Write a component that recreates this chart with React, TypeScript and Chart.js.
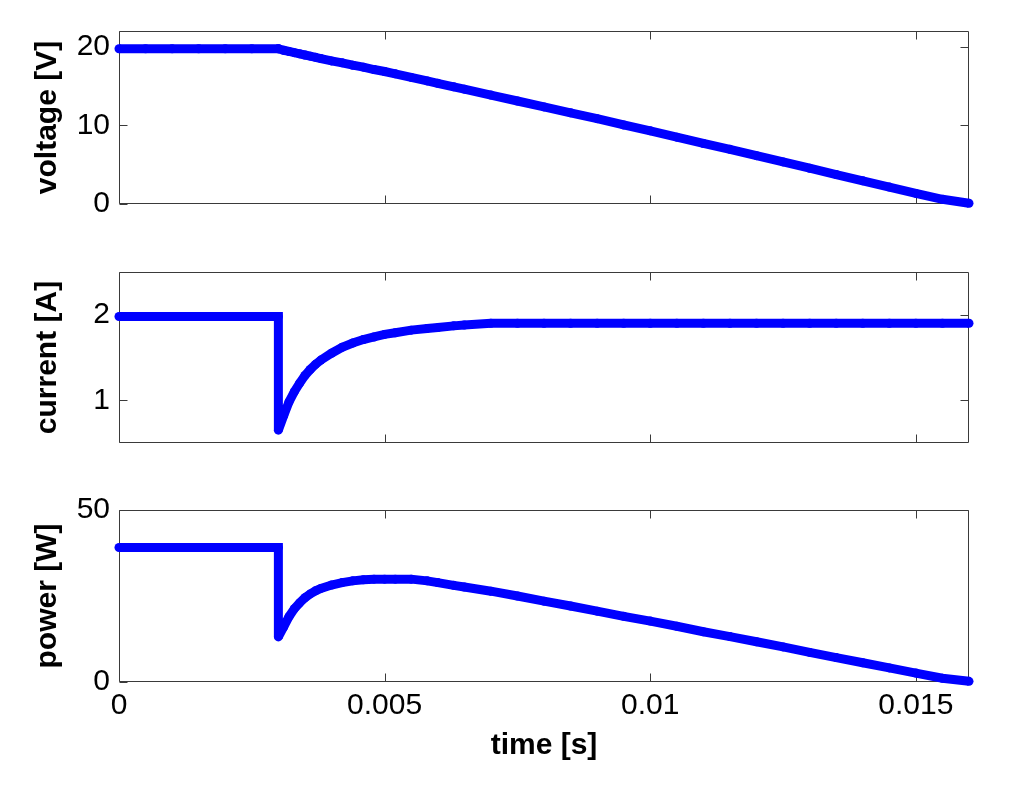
import React, { useEffect, useRef } from "react";
import { Chart, registerables } from "chart.js";

Chart.register(...registerables);

// ---- data ----
const timeS = [
  0, 0.0005, 0.001, 0.0015, 0.002, 0.0025, 0.003, 0.003,
  0.0031, 0.0032, 0.0033, 0.0034, 0.0035, 0.0036, 0.0037, 0.0038,
  0.004, 0.0042, 0.0044, 0.0046, 0.0048,
  0.005, 0.0052, 0.0055, 0.0058, 0.006, 0.0063, 0.0065,
  0.007, 0.0075, 0.008, 0.0085, 0.009, 0.0095, 0.01, 0.0105, 0.011, 0.0115,
  0.012, 0.0125, 0.013, 0.0135, 0.014, 0.0145, 0.015, 0.0155, 0.016,
];

const voltageV = [
  19.75, 19.75, 19.75, 19.75, 19.75, 19.75, 19.75, 19.75,
  19.55, 19.4, 19.25, 19.1, 18.95, 18.8, 18.65, 18.5,
  18.2, 17.95, 17.65, 17.4, 17.1,
  16.85, 16.55, 16.1, 15.65, 15.35, 14.9, 14.6,
  13.85, 13.1, 12.35, 11.6, 10.85, 10.05, 9.3, 8.5, 7.7, 6.95,
  6.15, 5.35, 4.55, 3.75, 2.95, 2.15, 1.35, 0.6, 0.1,
];

const currentA = [
  1.98, 1.98, 1.98, 1.98, 1.98, 1.98, 1.98, 0.65,
  0.82, 0.98, 1.1, 1.2, 1.29, 1.36, 1.42, 1.47,
  1.55, 1.62, 1.67, 1.71, 1.74,
  1.77, 1.79, 1.82, 1.84, 1.85, 1.87, 1.88,
  1.9, 1.9, 1.9, 1.9, 1.9, 1.9, 1.9, 1.9, 1.9, 1.9,
  1.9, 1.9, 1.9, 1.9, 1.9, 1.9, 1.9, 1.9, 1.9,
];

const powerW = [
  39.1, 39.1, 39.1, 39.1, 39.1, 39.1, 39.1, 13.1,
  16.0, 19.0, 21.3, 23.0, 24.5, 25.6, 26.5, 27.2,
  28.2, 28.9, 29.4, 29.7, 29.9,
  29.9, 29.9, 29.9, 29.4, 28.9, 28.1, 27.6,
  26.4, 25.0, 23.5, 22.1, 20.6, 19.1, 17.7, 16.2, 14.6, 13.2,
  11.7, 10.2, 8.6, 7.1, 5.6, 4.1, 2.6, 1.1, 0.2,
];

const timeTicks = [0, 0.005, 0.01, 0.015];
const timeTickLabels = ["0", "0.005", "0.01", "0.015"];
const timeRange = [0, 0.016];

const voltageTicks = [0, 10, 20];
const voltageRange = [0, 22];
const currentTicks = [1, 2];
const currentRange = [0.5, 2.5];
const powerTicks = [0, 50];
const powerRange = [0, 50];

// ---- styling ----
const FONT = "'Liberation Sans', Arial, Helvetica, sans-serif";
const BLUE = "#0000ff";

const boxPlugin = {
  id: "matlabBox",
  beforeDatasetsDraw(chart: any, _args: any, opts: any) {
    const { ctx, chartArea: a, scales } = chart;
    const tl = 8;
    ctx.save();
    ctx.strokeStyle = "#3a3a3a";
    ctx.lineWidth = 1;
    const l = Math.round(a.left) + 0.5;
    const r = Math.round(a.right) - 0.5;
    const t = Math.round(a.top) + 0.5;
    const b = Math.round(a.bottom) - 0.5;
    ctx.beginPath();
    ctx.rect(l, t, r - l, b - t);
    for (const v of opts.xTicks) {
      const px = Math.round(scales.x.getPixelForValue(v)) + 0.5;
      ctx.moveTo(px, b);
      ctx.lineTo(px, b - tl);
      ctx.moveTo(px, t);
      ctx.lineTo(px, t + tl);
    }
    for (const v of opts.yTicks) {
      const py = Math.round(scales.y.getPixelForValue(v)) + 0.5;
      ctx.moveTo(l, py);
      ctx.lineTo(l + tl, py);
      ctx.moveTo(r, py);
      ctx.lineTo(r - tl, py);
    }
    ctx.stroke();
    ctx.restore();
    // keep right-angle corners square, bevel the sharp ones
    ctx.miterLimit = 1.5;
  },
};

type PanelProps = {
  top: number;
  height: number;
  padTop: number;
  padBottom: number;
  values: number[];
  yTicks: number[];
  yRange: number[];
  yTitle: string;
  showX: boolean;
};

function Panel(p: PanelProps) {
  const ref = useRef<HTMLCanvasElement | null>(null);
  useEffect(() => {
    if (!ref.current) return;
    const data = timeS.map((t, i) => ({ x: t, y: p.values[i] }));
    const chart = new Chart(ref.current, {
      type: "line",
      data: {
        datasets: [
          {
            data,
            borderColor: BLUE,
            backgroundColor: BLUE,
            borderWidth: 9,
            pointRadius: 4.5,
            pointBorderWidth: 0,
            pointBackgroundColor: BLUE,
            borderJoinStyle: "miter",
            tension: 0,
            clip: false as any,
          } as any,
        ],
      },
      options: {
        responsive: false,
        animation: false,
        events: [],
        layout: { padding: { top: p.padTop, bottom: p.padBottom, left: 0, right: 55 } },
        plugins: {
          legend: { display: false },
          tooltip: { enabled: false },
          matlabBox: { xTicks: timeTicks, yTicks: p.yTicks },
        } as any,
        scales: {
          x: {
            type: "linear",
            display: p.showX,
            min: timeRange[0],
            max: timeRange[1],
            grid: { display: false, drawTicks: false },
            border: { display: false },
            afterBuildTicks: (s: any) => {
              s.ticks = timeTicks.map((v) => ({ value: v }));
            },
            afterFit: (s: any) => {
              s.height = p.showX ? 105 : 0;
            },
            ticks: {
              padding: 6,
              color: "#000",
              font: { family: FONT, size: 30 },
              maxRotation: 0,
              autoSkip: false,
              callback: (v: any) => {
                const i = timeTicks.indexOf(Number(v));
                return i >= 0 ? timeTickLabels[i] : "";
              },
            },
            title: {
              display: true,
              text: "time [s]",
              color: "#000",
              font: { family: FONT, size: 30, weight: "bold" },
              padding: { top: 0, bottom: 23 },
            },
          },
          y: {
            type: "linear",
            min: p.yRange[0],
            max: p.yRange[1],
            grid: { display: false, drawTicks: false },
            border: { display: false },
            afterBuildTicks: (s: any) => {
              s.ticks = p.yTicks.map((v) => ({ value: v }));
            },
            afterFit: (s: any) => {
              s.width = 119;
            },
            ticks: {
              padding: 9,
              color: "#000",
              font: { family: FONT, size: 30 },
              autoSkip: false,
              callback: (v: any) => String(v),
            },
            title: {
              display: true,
              text: p.yTitle,
              color: "#000",
              font: { family: FONT, size: 30, weight: "bold" },
              padding: { top: 30, bottom: 0 },
            },
          },
        },
      },
      plugins: [boxPlugin as any],
    });
    return () => chart.destroy();
  }, []);
  return (
    <div style={{ position: "absolute", left: 0, top: p.top, width: 1024, height: p.height }}>
      <canvas ref={ref} width={1024} height={p.height} style={{ display: "block" }} />
    </div>
  );
}

export default function App() {
  return (
    <div
      style={{
        position: "absolute",
        left: 0,
        top: 0,
        width: 1024,
        height: 787,
        background: "#fff",
        overflow: "hidden",
      }}
    >
      <Panel top={0} height={240} padTop={31} padBottom={36} values={voltageV} yTicks={voltageTicks} yRange={voltageRange} yTitle="voltage [V]" showX={false} />
      <Panel top={240} height={235} padTop={32} padBottom={32} values={currentA} yTicks={currentTicks} yRange={currentRange} yTitle="current [A]" showX={false} />
      <Panel top={475} height={312} padTop={35} padBottom={0} values={powerW} yTicks={powerTicks} yRange={powerRange} yTitle="power [W]" showX={true} />
    </div>
  );
}
